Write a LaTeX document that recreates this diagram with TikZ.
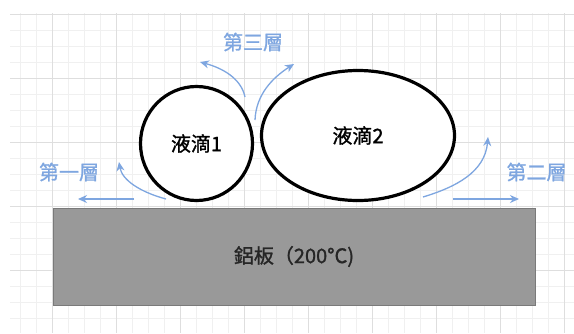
\documentclass[tikz,border=0pt]{standalone}
\usepackage{fontspec}
\setmainfont{Noto Sans CJK TC}
\newfontfamily\heavycjk[FakeBold=1.2]{Noto Sans CJK TC}
\usetikzlibrary{shapes.geometric,arrows.meta}
\definecolor{flowblue}{HTML}{7EA6E0}
\definecolor{platefill}{HTML}{999999}
\definecolor{plateedge}{HTML}{7A7A7A}
\definecolor{gridminor}{HTML}{F0F0F0}
\definecolor{gridmajor}{HTML}{DEDEDE}
\tikzset{
  droplet/.style={ellipse, draw=black, line width=3.2pt, fill=white, inner sep=0pt,
    font=\heavycjk\fontsize{20}{24}\selectfont},
  plate/.style={rectangle, draw=plateedge, line width=1pt, fill=platefill, inner sep=0pt,
    font=\heavycjk\fontsize{20}{24}\selectfont, text=black!85},
  layerlabel/.style={text=flowblue, inner sep=0pt, font=\heavycjk\fontsize{20}{24}\selectfont},
  flow/.style={draw=flowblue, line width=1.3pt, -{Stealth[length=9pt,width=8pt]}}
}
\begin{document}
\begin{tikzpicture}[x=1pt,y=-1pt]
\useasboundingbox (0,0) rectangle (574,333);
\fill[white] (0,0) rectangle (574,333);
% grid
\begin{scope}
\clip (10,13) rectangle (574,333);
\foreach \i in {-2,...,36} {
  \draw[gridminor, line width=0.6pt] ({4+16*\i},13) -- ({4+16*\i},333);
  \draw[gridminor, line width=0.6pt] (10,{14+16*\i}) -- (574,{14+16*\i});
}
\foreach \i in {-1,...,9} {
  \draw[gridmajor, line width=0.9pt] ({52+64*\i},13) -- ({52+64*\i},333);
  \draw[gridmajor, line width=0.9pt] (10,{14+64*\i}) -- (574,{14+64*\i});
}
\end{scope}
% plate
\node[plate, minimum width=482pt, minimum height=97pt] (plate) at (294,256.5) {鋁板（200°C)};
% droplets
\node[droplet, minimum width=112pt, minimum height=114pt] (d1) at (196.5,143.5) {液滴1};
\node[droplet, minimum width=193pt, minimum height=130pt] (d2) at (358,135.5) {液滴2};
% labels
\node[layerlabel] (l3) at (253,42) {第三層};
\node[layerlabel] (l1) at (69,172) {第一層};
\node[layerlabel] (l2) at (536.5,172) {第二層};
% arrow coordinates
\coordinate (a1s) at (134,199);
\coordinate (a1e) at (78,199);
\coordinate (a2s) at (166,199);
\coordinate (a2e) at (119,162);
\coordinate (a3s) at (245,97);
\coordinate (a3e) at (200,62);
\coordinate (a4s) at (255,120);
\coordinate (a4e) at (294,64);
\coordinate (a5s) at (423,197);
\coordinate (a5e) at (488,137);
\coordinate (a6s) at (453,199);
\coordinate (a6e) at (519,199);
% arrows
\draw[flow] (a1s) -- (a1e);
\draw[flow] (a2s) .. controls (140,192) and (122,180) .. (a2e);
\draw[flow] (a3s) .. controls (241,78) and (222,68) .. (a3e);
\draw[flow] (a4s) .. controls (256,95) and (272,78) .. (a4e);
\draw[flow] (a5s) .. controls (456,187) and (485,172) .. (a5e);
\draw[flow] (a6s) -- (a6e);
\end{tikzpicture}
\end{document}
